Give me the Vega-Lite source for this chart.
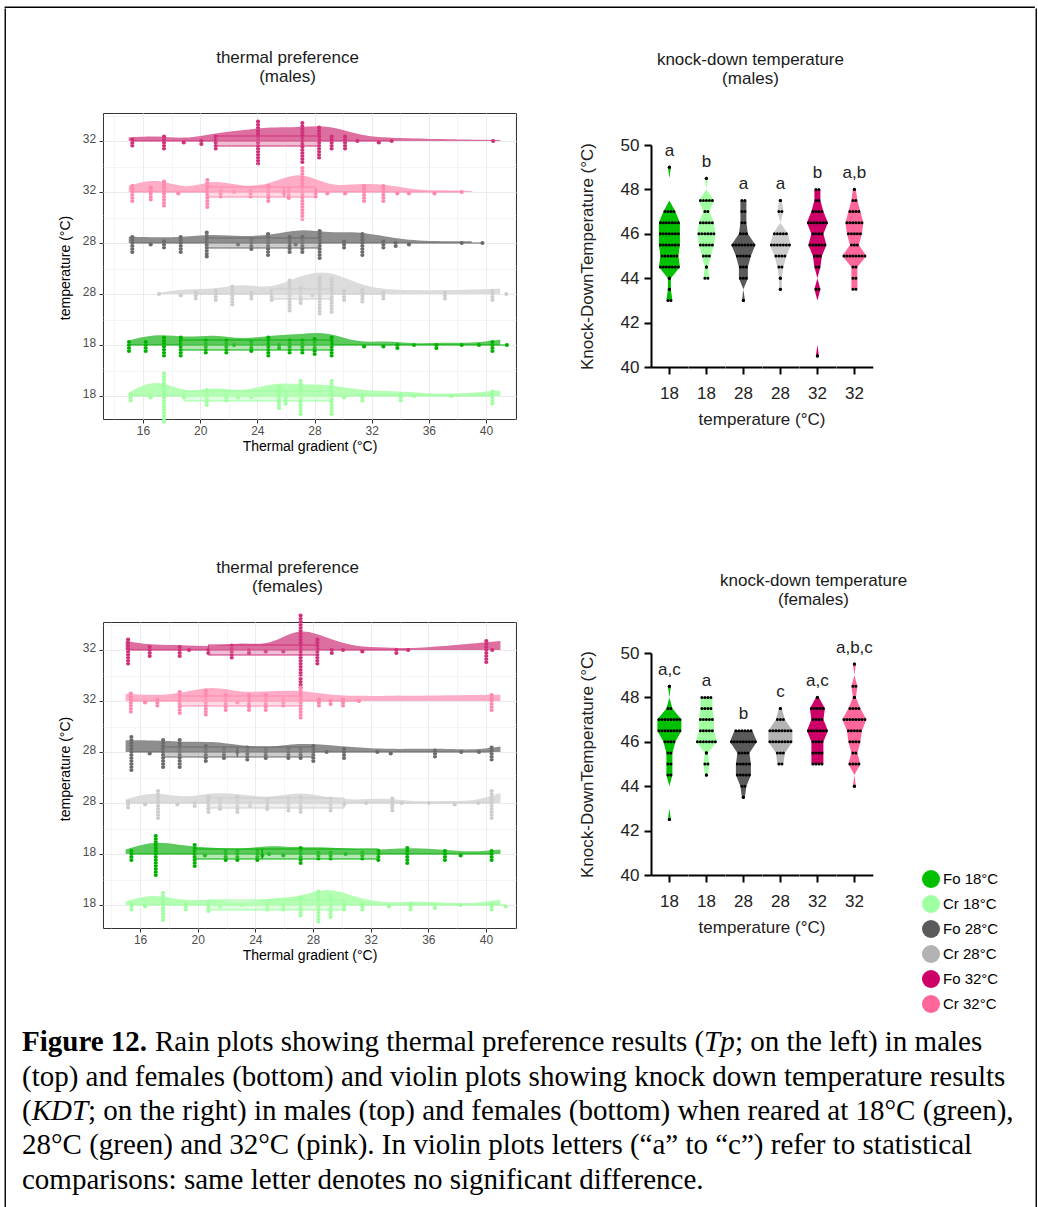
{
"$schema": "https://vega.github.io/schema/vega-lite/v6.json",
"padding": {"left": 4, "top": 6, "right": 0, "bottom": 0},
"background": "white",
"config": {
  "font": "Liberation Sans",
  "view": {"stroke": null},
  "title": {"fontSize": 17, "fontWeight": "normal", "color": "#1a1a1a", "lineHeight": 19, "anchor": "middle", "font": "Liberation Sans"},
  "axis": {"labelFont": "Liberation Sans", "titleFont": "Liberation Sans"},
  "header": {"labelFont": "Liberation Sans", "titleFont": "Liberation Sans"},
  "legend": {"labelFont": "Liberation Sans"}
},
"datasets": {
  "tpm": [
    {"g":"Fo32","x":15.25,"n":4},{"g":"Fo32","x":17.47,"n":6},{"g":"Fo32","x":18.85,"n":2},{"g":"Fo32","x":20.08,"n":3},{"g":"Fo32","x":21.09,"n":6},{"g":"Fo32","x":24.05,"n":16},{"g":"Fo32","x":27.15,"n":15},{"g":"Fo32","x":28.32,"n":12},{"g":"Fo32","x":29.2,"n":6},{"g":"Fo32","x":30.14,"n":6},{"g":"Fo32","x":31.0,"n":1},{"g":"Fo32","x":32.5,"n":2},{"g":"Fo32","x":33.4,"n":1},{"g":"Fo32","x":40.5,"n":1},
    {"g":"Cr32","x":15.25,"n":7},{"g":"Cr32","x":16.54,"n":6},{"g":"Cr32","x":17.47,"n":10},{"g":"Cr32","x":18.47,"n":2},{"g":"Cr32","x":20.5,"n":11},{"g":"Cr32","x":21.43,"n":4},{"g":"Cr32","x":22.37,"n":1},{"g":"Cr32","x":23.53,"n":4},{"g":"Cr32","x":24.77,"n":7},{"g":"Cr32","x":25.87,"n":2},{"g":"Cr32","x":26.2,"n":5},{"g":"Cr32","x":27.15,"n":19},{"g":"Cr32","x":28.08,"n":4},{"g":"Cr32","x":28.9,"n":2},{"g":"Cr32","x":30.14,"n":2},{"g":"Cr32","x":31.47,"n":7},{"g":"Cr32","x":32.82,"n":7},{"g":"Cr32","x":33.8,"n":2},{"g":"Cr32","x":34.6,"n":2},{"g":"Cr32","x":36.4,"n":2},{"g":"Cr32","x":38.3,"n":1},
    {"g":"Fo28","x":15.25,"n":7},{"g":"Fo28","x":16.54,"n":2},{"g":"Fo28","x":17.47,"n":4},{"g":"Fo28","x":18.64,"n":7},{"g":"Fo28","x":20.46,"n":10},{"g":"Fo28","x":22.65,"n":2},{"g":"Fo28","x":23.58,"n":5},{"g":"Fo28","x":24.75,"n":9},{"g":"Fo28","x":26.26,"n":7},{"g":"Fo28","x":26.68,"n":2},{"g":"Fo28","x":27.15,"n":7},{"g":"Fo28","x":28.36,"n":11},{"g":"Fo28","x":30.07,"n":4},{"g":"Fo28","x":31.35,"n":9},{"g":"Fo28","x":32.82,"n":4},{"g":"Fo28","x":33.68,"n":3},{"g":"Fo28","x":34.61,"n":2},{"g":"Fo28","x":38.3,"n":1},{"g":"Fo28","x":39.75,"n":1},
    {"g":"Cr28","x":17.12,"n":1},{"g":"Cr28","x":18.64,"n":2},{"g":"Cr28","x":19.69,"n":4},{"g":"Cr28","x":21.09,"n":5},{"g":"Cr28","x":22.25,"n":8},{"g":"Cr28","x":23.58,"n":4},{"g":"Cr28","x":25.0,"n":5},{"g":"Cr28","x":26.26,"n":12},{"g":"Cr28","x":27.03,"n":7},{"g":"Cr28","x":27.85,"n":2},{"g":"Cr28","x":28.36,"n":14},{"g":"Cr28","x":29.2,"n":13},{"g":"Cr28","x":30.07,"n":5},{"g":"Cr28","x":31.35,"n":6},{"g":"Cr28","x":32.82,"n":4},{"g":"Cr28","x":37.13,"n":4},{"g":"Cr28","x":40.45,"n":5},{"g":"Cr28","x":41.42,"n":1},
    {"g":"Fo18","x":15.02,"n":5},{"g":"Fo18","x":16.19,"n":5},{"g":"Fo18","x":17.47,"n":8},{"g":"Fo18","x":18.64,"n":8},{"g":"Fo18","x":20.39,"n":6},{"g":"Fo18","x":21.83,"n":6},{"g":"Fo18","x":22.37,"n":1},{"g":"Fo18","x":23.58,"n":5},{"g":"Fo18","x":24.77,"n":8},{"g":"Fo18","x":25.52,"n":3},{"g":"Fo18","x":26.26,"n":6},{"g":"Fo18","x":27.15,"n":6},{"g":"Fo18","x":28.01,"n":7},{"g":"Fo18","x":29.2,"n":8},{"g":"Fo18","x":31.47,"n":2},{"g":"Fo18","x":32.82,"n":2},{"g":"Fo18","x":33.8,"n":3},{"g":"Fo18","x":34.96,"n":1},{"g":"Fo18","x":36.53,"n":3},{"g":"Fo18","x":38.3,"n":1},{"g":"Fo18","x":39.51,"n":1},{"g":"Fo18","x":40.45,"n":5},{"g":"Fo18","x":41.46,"n":1},
    {"g":"Cr18","x":15.14,"n":4},{"g":"Cr18","x":16.54,"n":2},{"g":"Cr18","x":17.47,"n":18},{"g":"Cr18","x":18.87,"n":2},{"g":"Cr18","x":20.46,"n":7},{"g":"Cr18","x":21.83,"n":4},{"g":"Cr18","x":22.65,"n":2},{"g":"Cr18","x":23.58,"n":2},{"g":"Cr18","x":25.52,"n":9},{"g":"Cr18","x":25.99,"n":6},{"g":"Cr18","x":27.03,"n":13},{"g":"Cr18","x":29.2,"n":13},{"g":"Cr18","x":30.07,"n":2},{"g":"Cr18","x":31.35,"n":4},{"g":"Cr18","x":34.03,"n":4},{"g":"Cr18","x":34.96,"n":1},{"g":"Cr18","x":37.58,"n":1},{"g":"Cr18","x":40.45,"n":6}
  ],
  "tpf": [
    {"g":"Fo32","x":15.17,"n":10},{"g":"Fo32","x":16.67,"n":5},{"g":"Fo32","x":18.75,"n":5},{"g":"Fo32","x":19.4,"n":1},{"g":"Fo32","x":20.74,"n":3},{"g":"Fo32","x":22.36,"n":6},{"g":"Fo32","x":23.56,"n":3},{"g":"Fo32","x":24.72,"n":2},{"g":"Fo32","x":25.94,"n":2},{"g":"Fo32","x":27.14,"n":26},{"g":"Fo32","x":28.3,"n":10},{"g":"Fo32","x":29.3,"n":3},{"g":"Fo32","x":30.08,"n":1},{"g":"Fo32","x":31.42,"n":2},{"g":"Fo32","x":33.78,"n":3},{"g":"Fo32","x":34.6,"n":1},{"g":"Fo32","x":40.02,"n":9},{"g":"Fo32","x":40.43,"n":1},
    {"g":"Cr32","x":15.36,"n":8},{"g":"Cr32","x":16.35,"n":2},{"g":"Cr32","x":17.2,"n":4},{"g":"Cr32","x":18.75,"n":9},{"g":"Cr32","x":20.56,"n":10},{"g":"Cr32","x":21.94,"n":7},{"g":"Cr32","x":22.75,"n":2},{"g":"Cr32","x":23.56,"n":7},{"g":"Cr32","x":24.72,"n":7},{"g":"Cr32","x":25.94,"n":4},{"g":"Cr32","x":27.14,"n":12},{"g":"Cr32","x":28.41,"n":4},{"g":"Cr32","x":29.22,"n":3},{"g":"Cr32","x":30.08,"n":4},{"g":"Cr32","x":31.19,"n":1},{"g":"Cr32","x":40.39,"n":7},
    {"g":"Fo28","x":15.4,"n":13},{"g":"Fo28","x":16.67,"n":2},{"g":"Fo28","x":17.6,"n":11},{"g":"Fo28","x":18.75,"n":11},{"g":"Fo28","x":20.56,"n":7},{"g":"Fo28","x":21.82,"n":5},{"g":"Fo28","x":22.75,"n":1},{"g":"Fo28","x":23.44,"n":6},{"g":"Fo28","x":24.72,"n":5},{"g":"Fo28","x":26.29,"n":5},{"g":"Fo28","x":27.14,"n":5},{"g":"Fo28","x":28.02,"n":7},{"g":"Fo28","x":28.94,"n":1},{"g":"Fo28","x":30.15,"n":5},{"g":"Fo28","x":32.46,"n":1},{"g":"Fo28","x":33.39,"n":2},{"g":"Fo28","x":36.46,"n":4},{"g":"Fo28","x":38.28,"n":1},{"g":"Fo28","x":39.51,"n":1},{"g":"Fo28","x":40.39,"n":6},
    {"g":"Cr28","x":15.17,"n":4},{"g":"Cr28","x":16.35,"n":2},{"g":"Cr28","x":17.25,"n":11},{"g":"Cr28","x":18.59,"n":2},{"g":"Cr28","x":19.79,"n":3},{"g":"Cr28","x":20.74,"n":7},{"g":"Cr28","x":21.55,"n":5},{"g":"Cr28","x":22.75,"n":7},{"g":"Cr28","x":23.63,"n":3},{"g":"Cr28","x":24.83,"n":5},{"g":"Cr28","x":26.29,"n":6},{"g":"Cr28","x":27.14,"n":7},{"g":"Cr28","x":29.22,"n":6},{"g":"Cr28","x":30.15,"n":2},{"g":"Cr28","x":31.69,"n":1},{"g":"Cr28","x":33.5,"n":6},{"g":"Cr28","x":34.15,"n":1},{"g":"Cr28","x":36.04,"n":1},{"g":"Cr28","x":37.82,"n":2},{"g":"Cr28","x":39.46,"n":1},{"g":"Cr28","x":40.39,"n":11},
    {"g":"Fo18","x":15.4,"n":5},{"g":"Fo18","x":17.09,"n":15},{"g":"Fo18","x":19.79,"n":9},{"g":"Fo18","x":20.5,"n":2},{"g":"Fo18","x":21.94,"n":5},{"g":"Fo18","x":22.75,"n":5},{"g":"Fo18","x":24.14,"n":5},{"g":"Fo18","x":24.48,"n":2},{"g":"Fo18","x":24.95,"n":1},{"g":"Fo18","x":25.94,"n":2},{"g":"Fo18","x":27.14,"n":7},{"g":"Fo18","x":28.37,"n":4},{"g":"Fo18","x":29.22,"n":4},{"g":"Fo18","x":30.26,"n":1},{"g":"Fo18","x":31.42,"n":4},{"g":"Fo18","x":32.53,"n":5},{"g":"Fo18","x":34.54,"n":7},{"g":"Fo18","x":37.15,"n":5},{"g":"Fo18","x":38.24,"n":2},{"g":"Fo18","x":40.39,"n":5},
    {"g":"Cr18","x":15.4,"n":4},{"g":"Cr18","x":16.35,"n":2},{"g":"Cr18","x":17.6,"n":11},{"g":"Cr18","x":19.17,"n":4},{"g":"Cr18","x":20.74,"n":5},{"g":"Cr18","x":21.55,"n":2},{"g":"Cr18","x":23.05,"n":1},{"g":"Cr18","x":24.83,"n":4},{"g":"Cr18","x":25.94,"n":4},{"g":"Cr18","x":27.14,"n":8},{"g":"Cr18","x":28.37,"n":12},{"g":"Cr18","x":29.22,"n":9},{"g":"Cr18","x":30.15,"n":4},{"g":"Cr18","x":31.42,"n":4},{"g":"Cr18","x":33.27,"n":2},{"g":"Cr18","x":34.77,"n":4},{"g":"Cr18","x":36.46,"n":3},{"g":"Cr18","x":38.24,"n":1},{"g":"Cr18","x":40.39,"n":4},{"g":"Cr18","x":41.36,"n":2}
  ],
  "kdm": [
    {"g":"Fo18","k":49,"n":1},{"g":"Fo18","k":48.5,"n":0},{"g":"Fo18","k":48,"n":0},{"g":"Fo18","k":47.5,"n":0},{"g":"Fo18","k":47,"n":4},{"g":"Fo18","k":46.5,"n":7},{"g":"Fo18","k":46,"n":7},{"g":"Fo18","k":45.5,"n":7},{"g":"Fo18","k":45,"n":6},{"g":"Fo18","k":44.5,"n":7},{"g":"Fo18","k":44,"n":1},{"g":"Fo18","k":43.5,"n":1},{"g":"Fo18","k":43,"n":2},
    {"g":"Cr18","k":48.5,"n":1},{"g":"Cr18","k":48,"n":0},{"g":"Cr18","k":47.5,"n":5},{"g":"Cr18","k":47,"n":2},{"g":"Cr18","k":46.5,"n":5},{"g":"Cr18","k":46,"n":6},{"g":"Cr18","k":45.5,"n":5},{"g":"Cr18","k":45,"n":3},{"g":"Cr18","k":44.5,"n":1},{"g":"Cr18","k":44,"n":2},
    {"g":"Fo28","k":47.5,"n":2},{"g":"Fo28","k":47,"n":2},{"g":"Fo28","k":46.5,"n":2},{"g":"Fo28","k":46,"n":3},{"g":"Fo28","k":45.5,"n":8},{"g":"Fo28","k":45,"n":5},{"g":"Fo28","k":44.5,"n":3},{"g":"Fo28","k":44,"n":3},{"g":"Fo28","k":43.5,"n":0},{"g":"Fo28","k":43,"n":1},
    {"g":"Cr28","k":47.5,"n":1},{"g":"Cr28","k":47,"n":2},{"g":"Cr28","k":46.5,"n":0},{"g":"Cr28","k":46,"n":5},{"g":"Cr28","k":45.5,"n":7},{"g":"Cr28","k":45,"n":4},{"g":"Cr28","k":44.5,"n":2},{"g":"Cr28","k":44,"n":1},{"g":"Cr28","k":43.5,"n":1},
    {"g":"Fo32","k":48,"n":2},{"g":"Fo32","k":47.5,"n":2},{"g":"Fo32","k":47,"n":4},{"g":"Fo32","k":46.5,"n":7},{"g":"Fo32","k":46,"n":4},{"g":"Fo32","k":45.5,"n":6},{"g":"Fo32","k":45,"n":3},{"g":"Fo32","k":44.5,"n":2},{"g":"Fo32","k":44,"n":0},{"g":"Fo32","k":43.5,"n":2},{"g":"Fo32","k":43,"n":0},{"g":"Fo32","k":41,"n":0},{"g":"Fo32","k":40.5,"n":1},
    {"g":"Cr32","k":48,"n":1},{"g":"Cr32","k":47.5,"n":2},{"g":"Cr32","k":47,"n":4},{"g":"Cr32","k":46.5,"n":6},{"g":"Cr32","k":46,"n":5},{"g":"Cr32","k":45.5,"n":3},{"g":"Cr32","k":45,"n":8},{"g":"Cr32","k":44.5,"n":2},{"g":"Cr32","k":44,"n":2},{"g":"Cr32","k":43.5,"n":2},
    {"g":"Fo18","lt":"a"},{"g":"Cr18","lt":"b"},{"g":"Fo28","lt":"a"},{"g":"Cr28","lt":"a"},{"g":"Fo32","lt":"b"},{"g":"Cr32","lt":"a,b"}
  ],
  "kdf": [
    {"g":"Fo18","k":48.5,"n":1},{"g":"Fo18","k":48,"n":0},{"g":"Fo18","k":47.5,"n":2},{"g":"Fo18","k":47,"n":8},{"g":"Fo18","k":46.5,"n":8},{"g":"Fo18","k":46,"n":4},{"g":"Fo18","k":45.5,"n":2},{"g":"Fo18","k":45,"n":2},{"g":"Fo18","k":44.5,"n":2},{"g":"Fo18","k":44,"n":0},{"g":"Fo18","k":43,"n":0},{"g":"Fo18","k":42.5,"n":1},
    {"g":"Cr18","k":48,"n":4},{"g":"Cr18","k":47.5,"n":4},{"g":"Cr18","k":47,"n":5},{"g":"Cr18","k":46.5,"n":5},{"g":"Cr18","k":46,"n":7},{"g":"Cr18","k":45.5,"n":1},{"g":"Cr18","k":45,"n":2},{"g":"Cr18","k":44.5,"n":1},
    {"g":"Fo28","k":46.5,"n":6},{"g":"Fo28","k":46,"n":9},{"g":"Fo28","k":45.5,"n":4},{"g":"Fo28","k":45,"n":5},{"g":"Fo28","k":44.5,"n":5},{"g":"Fo28","k":44,"n":2},{"g":"Fo28","k":43.5,"n":1},
    {"g":"Cr28","k":47.5,"n":1},{"g":"Cr28","k":47,"n":3},{"g":"Cr28","k":46.5,"n":8},{"g":"Cr28","k":46,"n":8},{"g":"Cr28","k":45.5,"n":3},{"g":"Cr28","k":45,"n":2},
    {"g":"Fo32","k":48,"n":1},{"g":"Fo32","k":47.5,"n":5},{"g":"Fo32","k":47,"n":4},{"g":"Fo32","k":46.5,"n":7},{"g":"Fo32","k":46,"n":4},{"g":"Fo32","k":45.5,"n":4},{"g":"Fo32","k":45,"n":4},
    {"g":"Cr32","k":49.5,"n":1},{"g":"Cr32","k":49,"n":0},{"g":"Cr32","k":48.5,"n":2},{"g":"Cr32","k":48,"n":1},{"g":"Cr32","k":47.5,"n":4},{"g":"Cr32","k":47,"n":8},{"g":"Cr32","k":46.5,"n":5},{"g":"Cr32","k":46,"n":4},{"g":"Cr32","k":45.5,"n":2},{"g":"Cr32","k":45,"n":4},{"g":"Cr32","k":44.5,"n":0},{"g":"Cr32","k":44,"n":1},
    {"g":"Fo18","lt":"a,c"},{"g":"Cr18","lt":"a"},{"g":"Fo28","lt":"b"},{"g":"Cr28","lt":"c"},{"g":"Fo32","lt":"a,c"},{"g":"Cr32","lt":"a,b,c"}
  ],
  "cap": [
    {"id":"b","line":1,"t":"Figure 12."},
    {"id":"p1","line":1,"t":"Rain plots showing thermal preference results ("},
    {"id":"i1","line":1,"t":"Tp"},
    {"id":"p2","line":1,"t":"; on the left) in males"},
    {"id":"p","line":2,"t":"(top) and females (bottom) and violin plots showing knock down temperature results"},
    {"id":"p","line":3,"t":"("},
    {"id":"i3","line":3,"t":"KDT"},
    {"id":"p3","line":3,"t":"; on the right) in males (top) and females (bottom) when reared at 18°C (green),"},
    {"id":"p","line":4,"t":"28°C (green) and 32°C (pink). In violin plots letters (“a” to “c”) refer to statistical"},
    {"id":"p","line":5,"t":"comparisons: same letter denotes no significant difference."}
  ]
},
"spacing": 0,
"resolve": {"scale": {"color": "independent", "fill": "independent", "stroke": "independent"}},
"vconcat": [
  {"width": 1029, "height": 0.1, "data": {"values": []}, "mark": "point", "encoding": {}, "view": {"stroke": "#000000", "strokeWidth": 1.3}},
  {"spacing": 16,
   "resolve": {"scale": {"color": "independent", "fill": "independent", "stroke": "independent"}},
   "hconcat": [
    {"width": 0.1, "height": 1201, "data": {"values": []}, "mark": "point", "encoding": {}, "view": {"stroke": "#000000", "strokeWidth": 1.3}},
    {"spacing": 0,
     "resolve": {"scale": {"color": "independent", "fill": "independent", "stroke": "independent"}},
     "vconcat": [
      {"width": 1, "height": 40, "data": {"values": []}, "mark": "point", "encoding": {}},
      {"spacing": 10,
       "resolve": {"scale": {"color": "independent", "fill": "independent", "stroke": "independent"}},
       "hconcat": [
        {"width": 26, "height": 1, "data": {"values": []}, "mark": "point", "encoding": {}},
        {"data": {"name": "tpm"},
         "title": {"text": ["thermal preference", "(males)"], "offset": 27},
         "bounds": "flush",
         "facet": {"row": {"field": "g", "type": "nominal", "sort": ["Fo32","Cr32","Fo28","Cr28","Fo18","Cr18"], "title": "temperature (°C)",
           "header": {"labelExpr": "substring(datum.value, 2)", "labelAngle": 0, "labelAlign": "right", "labelBaseline": "middle", "labelFontSize": 12, "labelColor": "#4d4d4d", "labelPadding": -11, "titleFontSize": 14, "titleFontWeight": "normal", "titleColor": "#000000", "titlePadding": -1}}},
         "spacing": {"row": 0},
         "spec": {
          "width": 413, "height": 51,
          "resolve": {"axis": {"x": "independent", "y": "independent"}},
          "layer": [
           {"transform": [
              {"bin": {"step": 2, "extent": [14, 42]}, "field": "x", "as": ["b0", "b1"]},
              {"aggregate": [{"op": "sum", "field": "n", "as": "c"}], "groupby": ["g", "b0"]},
              {"impute": "c", "key": "b0", "groupby": ["g"], "value": 0},
              {"calculate": "datum.b0 + 1", "as": "bm"},
              {"calculate": "datum.c * 0.9", "as": "h"}],
            "mark": {"type": "area", "interpolate": "basis"},
            "encoding": {
              "x": {"field": "bm", "type": "quantitative", "scale": {"domain": [13.2, 42.1], "nice": false, "zero": false},
                    "axis": {"orient": "top", "values": [14,18,22,26,30,34,38,42], "grid": true, "gridColor": "#ececec", "gridWidth": 0.6, "ticks": false, "labels": false, "domain": true, "domainColor": "#333333", "domainWidth": 1, "title": null, "minExtent": 0}},
              "y": {"field": "h", "type": "quantitative", "scale": {"domain": [-23, 28], "nice": false, "zero": false},
                    "axis": {"orient": "right", "values": [25.5], "grid": true, "gridColor": "#ececec", "gridWidth": 0.6, "ticks": false, "labels": false, "domain": true, "domainColor": "#333333", "domainWidth": 1, "title": null, "minExtent": 0}},
              "fill": {"field": "g", "type": "nominal", "scale": {"domain": ["Fo32","Cr32","Fo28","Cr28","Fo18","Cr18"], "range": ["#dc6ea0","#ffadc6","#8e8e8e","#dcdcdc","#5cc95c","#b5ffb5"]}, "legend": null}
            }},
           {"transform": [{"filter": "datum.n > 1"}, {"calculate": "(1 - datum.n)*1.5", "as": "lo"}, {"calculate": "(datum.n - 1)*1.5", "as": "hi"}],
            "mark": {"type": "rule", "strokeWidth": 4.2, "strokeCap": "round", "strokeDash": [0, 3]},
            "encoding": {
              "x": {"field": "x", "type": "quantitative",
                    "axis": {"orient": "bottom", "values": [16,20,24,28,32,36,40], "grid": true, "gridColor": "#ebebeb", "gridWidth": 1, "ticks": true, "tickColor": "#333333", "tickSize": 4, "labelFontSize": 12, "labelColor": "#4d4d4d", "labelPadding": 2, "domain": true, "domainColor": "#333333", "title": "Thermal gradient (°C)", "titleFontSize": 14, "titleFontWeight": "normal", "titleColor": "#000000", "titlePadding": 3}},
              "y": {"field": "lo", "type": "quantitative",
                    "axis": {"orient": "left", "values": [0], "grid": true, "gridColor": "#ebebeb", "gridWidth": 1, "ticks": true, "tickColor": "#333333", "tickSize": 4, "labels": false, "domain": true, "domainColor": "#333333", "title": null, "minExtent": 0}},
              "y2": {"field": "hi"},
              "stroke": {"field": "g", "type": "nominal", "scale": {"domain": ["Fo32","Cr32","Fo28","Cr28","Fo18","Cr18"], "range": ["#d03079","#ff88ae","#6b6b6b","#cdcdcd","#00b200","#9dff9d"]}, "legend": null}
            }},
           {"transform": [{"filter": "datum.n == 1"}],
            "mark": {"type": "circle", "size": 17, "opacity": 1},
            "encoding": {
              "x": {"field": "x", "type": "quantitative", "axis": null},
              "y": {"datum": 0, "type": "quantitative", "axis": null},
              "color": {"field": "g", "type": "nominal", "scale": {"domain": ["Fo32","Cr32","Fo28","Cr28","Fo18","Cr18"], "range": ["#d03079","#ff88ae","#6b6b6b","#cdcdcd","#00b200","#9dff9d"]}, "legend": null}
            }},
           {"transform": [
              {"window": [{"op": "sum", "field": "n", "as": "cum"}], "sort": [{"field": "x"}], "groupby": ["g"]},
              {"joinaggregate": [{"op": "sum", "field": "n", "as": "N"}], "groupby": ["g"]},
              {"calculate": "datum.cum >= 0.25*datum.N ? datum.x : null", "as": "a1"},
              {"calculate": "datum.cum >= 0.5*datum.N ? datum.x : null", "as": "a2"},
              {"calculate": "datum.cum >= 0.75*datum.N ? datum.x : null", "as": "a3"},
              {"joinaggregate": [{"op": "min", "field": "a1", "as": "q1"}, {"op": "min", "field": "a2", "as": "md"}, {"op": "min", "field": "a3", "as": "q3"}], "groupby": ["g"]},
              {"calculate": "datum.x >= datum.q1 - 1.5*(datum.q3 - datum.q1) ? datum.x : null", "as": "wl"},
              {"calculate": "datum.x <= datum.q3 + 1.5*(datum.q3 - datum.q1) ? datum.x : null", "as": "wh"},
              {"aggregate": [{"op": "min", "field": "wl", "as": "wlo"}, {"op": "max", "field": "wh", "as": "whi"}, {"op": "max", "field": "q1", "as": "q1"}, {"op": "max", "field": "md", "as": "md"}, {"op": "max", "field": "q3", "as": "q3"}], "groupby": ["g"]}],
            "layer": [
             {"mark": {"type": "rule", "strokeWidth": 1.2},
              "encoding": {
                "x": {"field": "wlo", "type": "quantitative", "axis": null},
                "x2": {"field": "whi"},
                "y": {"datum": 0, "type": "quantitative", "axis": null},
                "stroke": {"field": "g", "type": "nominal", "legend": null}}},
             {"mark": {"type": "rect", "fillOpacity": 0.45, "strokeWidth": 1},
              "encoding": {
                "x": {"field": "q1", "type": "quantitative", "axis": null},
                "x2": {"field": "q3"},
                "y": {"datum": -5, "type": "quantitative", "axis": null},
                "y2": {"datum": 5},
                "fill": {"field": "g", "type": "nominal", "legend": null},
                "stroke": {"field": "g", "type": "nominal", "legend": null}}},
             {"mark": {"type": "rule", "strokeWidth": 1.5},
              "encoding": {
                "x": {"field": "md", "type": "quantitative", "axis": null},
                "y": {"datum": -5, "type": "quantitative", "axis": null},
                "y2": {"datum": 5},
                "stroke": {"field": "g", "type": "nominal", "legend": null}}}
            ]}
          ]
         }
        },
        {"width": 42, "height": 1, "data": {"values": []}, "mark": "point", "encoding": {}},
        {"spacing": 0,
         "title": {"text": ["knock-down temperature", "(males)"], "offset": 25, "dx": 25},
         "resolve": {"scale": {"color": "independent", "fill": "independent", "stroke": "independent"}},
         "vconcat": [
          {"width": 1, "height": 23, "data": {"values": []}, "mark": "point", "encoding": {}},
          {"data": {"name": "kdm"},
           "bounds": "flush",
           "facet": {"column": {"field": "g", "type": "nominal", "sort": ["Fo18","Cr18","Fo28","Cr28","Fo32","Cr32"], "title": "temperature (°C)",
             "header": {"labelOrient": "bottom", "titleOrient": "bottom", "labelExpr": "substring(datum.value, 2)", "labelFontSize": 17, "labelColor": "#222222", "labelPadding": 11, "titleFontSize": 17, "titleFontWeight": "normal", "titleColor": "#222222", "titlePadding": 0}}},
           "spacing": {"column": 0},
           "spec": {
            "width": 36.8, "height": 222,
            "layer": [
             {"transform": [{"filter": "isValid(datum.k)"}, {"calculate": "-datum.n/2", "as": "lo"}, {"calculate": "datum.n/2", "as": "hi"}],
              "mark": {"type": "area", "orient": "horizontal", "interpolate": "linear"},
              "encoding": {
                "y": {"field": "k", "type": "quantitative", "scale": {"domain": [40, 50], "nice": false, "zero": false},
                      "axis": {"values": [40,42,44,46,48,50], "domainColor": "#000000", "domainWidth": 2, "tickColor": "#000000", "tickWidth": 2, "tickSize": 7, "labelFontSize": 17, "labelColor": "#222222", "labelPadding": 5, "grid": false, "title": "Knock-DownTemperature (°C)", "titleFontSize": 17, "titleFontWeight": "normal", "titleColor": "#222222", "titlePadding": 24}},
                "x": {"field": "lo", "type": "quantitative", "scale": {"domain": [-6.13, 6.13], "nice": false, "zero": false},
                      "axis": {"values": [0], "domainColor": "#000000", "domainWidth": 2, "tickColor": "#000000", "tickWidth": 2, "tickSize": 7, "labels": false, "grid": false, "title": null}},
                "x2": {"field": "hi"},
                "fill": {"field": "g", "type": "nominal", "scale": {"domain": ["Fo18","Cr18","Fo28","Cr28","Fo32","Cr32"], "range": ["#00c000","#a0ffa0","#5a5a5a","#cccccc","#cc0066","#ff6699"]}, "legend": null}
              }},
             {"transform": [{"filter": "isValid(datum.k) && datum.n > 0"}, {"calculate": "(1 - datum.n)/2", "as": "lo"}, {"calculate": "(datum.n - 1)/2", "as": "hi"}],
              "mark": {"type": "rule", "strokeWidth": 3, "strokeCap": "round", "strokeDash": [0, 3], "color": "#000000"},
              "encoding": {
                "y": {"field": "k", "type": "quantitative"},
                "x": {"field": "lo", "type": "quantitative"},
                "x2": {"field": "hi"}
              }},
             {"transform": [{"filter": "isValid(datum.k) && datum.n == 1"}],
              "mark": {"type": "circle", "size": 10, "opacity": 1, "color": "#000000"},
              "encoding": {
                "y": {"field": "k", "type": "quantitative"}
              }},
             {"transform": [{"joinaggregate": [{"op": "max", "field": "k", "as": "mk"}], "groupby": ["g"]}, {"filter": "isValid(datum.lt)"}],
              "mark": {"type": "text", "fontSize": 17, "dy": -11.5, "baseline": "alphabetic", "color": "#222222"},
              "encoding": {
                "y": {"field": "mk", "type": "quantitative"},
                "text": {"field": "lt"}
              }}
            ]
           }
          }
         ]}
       ]},
      {"width": 1, "height": 106, "data": {"values": []}, "mark": "point", "encoding": {}},
      {"spacing": 10,
       "resolve": {"scale": {"color": "independent", "fill": "independent", "stroke": "independent"}},
       "hconcat": [
        {"width": 26, "height": 1, "data": {"values": []}, "mark": "point", "encoding": {}},
        {"data": {"name": "tpf"},
         "title": {"text": ["thermal preference", "(females)"], "offset": 14},
         "bounds": "flush",
         "facet": {"row": {"field": "g", "type": "nominal", "sort": ["Fo32","Cr32","Fo28","Cr28","Fo18","Cr18"], "title": "temperature (°C)",
           "header": {"labelExpr": "substring(datum.value, 2)", "labelAngle": 0, "labelAlign": "right", "labelBaseline": "middle", "labelFontSize": 12, "labelColor": "#4d4d4d", "labelPadding": -11, "titleFontSize": 14, "titleFontWeight": "normal", "titleColor": "#000000", "titlePadding": -1}}},
         "spacing": {"row": 0},
         "spec": {
          "width": 413, "height": 51,
          "resolve": {"axis": {"x": "independent", "y": "independent"}},
          "layer": [
           {"transform": [
              {"bin": {"step": 2, "extent": [14, 42]}, "field": "x", "as": ["b0", "b1"]},
              {"aggregate": [{"op": "sum", "field": "n", "as": "c"}], "groupby": ["g", "b0"]},
              {"impute": "c", "key": "b0", "groupby": ["g"], "value": 0},
              {"calculate": "datum.b0 + 1", "as": "bm"},
              {"calculate": "datum.c * 0.9", "as": "h"}],
            "mark": {"type": "area", "interpolate": "basis"},
            "encoding": {
              "x": {"field": "bm", "type": "quantitative", "scale": {"domain": [13.43, 42.08], "nice": false, "zero": false},
                    "axis": {"orient": "top", "values": [14,18,22,26,30,34,38,42], "grid": true, "gridColor": "#ececec", "gridWidth": 0.6, "ticks": false, "labels": false, "domain": true, "domainColor": "#333333", "domainWidth": 1, "title": null, "minExtent": 0}},
              "y": {"field": "h", "type": "quantitative", "scale": {"domain": [-23, 28], "nice": false, "zero": false},
                    "axis": {"orient": "right", "values": [25.5], "grid": true, "gridColor": "#ececec", "gridWidth": 0.6, "ticks": false, "labels": false, "domain": true, "domainColor": "#333333", "domainWidth": 1, "title": null, "minExtent": 0}},
              "fill": {"field": "g", "type": "nominal", "scale": {"domain": ["Fo32","Cr32","Fo28","Cr28","Fo18","Cr18"], "range": ["#dc6ea0","#ffadc6","#8e8e8e","#dcdcdc","#5cc95c","#b5ffb5"]}, "legend": null}
            }},
           {"transform": [{"filter": "datum.n > 1"}, {"calculate": "(1 - datum.n)*1.5", "as": "lo"}, {"calculate": "(datum.n - 1)*1.5", "as": "hi"}],
            "mark": {"type": "rule", "strokeWidth": 4.2, "strokeCap": "round", "strokeDash": [0, 3]},
            "encoding": {
              "x": {"field": "x", "type": "quantitative",
                    "axis": {"orient": "bottom", "values": [16,20,24,28,32,36,40], "grid": true, "gridColor": "#ebebeb", "gridWidth": 1, "ticks": true, "tickColor": "#333333", "tickSize": 4, "labelFontSize": 12, "labelColor": "#4d4d4d", "labelPadding": 2, "domain": true, "domainColor": "#333333", "title": "Thermal gradient (°C)", "titleFontSize": 14, "titleFontWeight": "normal", "titleColor": "#000000", "titlePadding": 3}},
              "y": {"field": "lo", "type": "quantitative",
                    "axis": {"orient": "left", "values": [0], "grid": true, "gridColor": "#ebebeb", "gridWidth": 1, "ticks": true, "tickColor": "#333333", "tickSize": 4, "labels": false, "domain": true, "domainColor": "#333333", "title": null, "minExtent": 0}},
              "y2": {"field": "hi"},
              "stroke": {"field": "g", "type": "nominal", "scale": {"domain": ["Fo32","Cr32","Fo28","Cr28","Fo18","Cr18"], "range": ["#d03079","#ff88ae","#6b6b6b","#cdcdcd","#00b200","#9dff9d"]}, "legend": null}
            }},
           {"transform": [{"filter": "datum.n == 1"}],
            "mark": {"type": "circle", "size": 17, "opacity": 1},
            "encoding": {
              "x": {"field": "x", "type": "quantitative", "axis": null},
              "y": {"datum": 0, "type": "quantitative", "axis": null},
              "color": {"field": "g", "type": "nominal", "scale": {"domain": ["Fo32","Cr32","Fo28","Cr28","Fo18","Cr18"], "range": ["#d03079","#ff88ae","#6b6b6b","#cdcdcd","#00b200","#9dff9d"]}, "legend": null}
            }},
           {"transform": [
              {"window": [{"op": "sum", "field": "n", "as": "cum"}], "sort": [{"field": "x"}], "groupby": ["g"]},
              {"joinaggregate": [{"op": "sum", "field": "n", "as": "N"}], "groupby": ["g"]},
              {"calculate": "datum.cum >= 0.25*datum.N ? datum.x : null", "as": "a1"},
              {"calculate": "datum.cum >= 0.5*datum.N ? datum.x : null", "as": "a2"},
              {"calculate": "datum.cum >= 0.75*datum.N ? datum.x : null", "as": "a3"},
              {"joinaggregate": [{"op": "min", "field": "a1", "as": "q1"}, {"op": "min", "field": "a2", "as": "md"}, {"op": "min", "field": "a3", "as": "q3"}], "groupby": ["g"]},
              {"calculate": "datum.x >= datum.q1 - 1.5*(datum.q3 - datum.q1) ? datum.x : null", "as": "wl"},
              {"calculate": "datum.x <= datum.q3 + 1.5*(datum.q3 - datum.q1) ? datum.x : null", "as": "wh"},
              {"aggregate": [{"op": "min", "field": "wl", "as": "wlo"}, {"op": "max", "field": "wh", "as": "whi"}, {"op": "max", "field": "q1", "as": "q1"}, {"op": "max", "field": "md", "as": "md"}, {"op": "max", "field": "q3", "as": "q3"}], "groupby": ["g"]}],
            "layer": [
             {"mark": {"type": "rule", "strokeWidth": 1.2},
              "encoding": {
                "x": {"field": "wlo", "type": "quantitative", "axis": null},
                "x2": {"field": "whi"},
                "y": {"datum": 0, "type": "quantitative", "axis": null},
                "stroke": {"field": "g", "type": "nominal", "legend": null}}},
             {"mark": {"type": "rect", "fillOpacity": 0.45, "strokeWidth": 1},
              "encoding": {
                "x": {"field": "q1", "type": "quantitative", "axis": null},
                "x2": {"field": "q3"},
                "y": {"datum": -5, "type": "quantitative", "axis": null},
                "y2": {"datum": 5},
                "fill": {"field": "g", "type": "nominal", "legend": null},
                "stroke": {"field": "g", "type": "nominal", "legend": null}}},
             {"mark": {"type": "rule", "strokeWidth": 1.5},
              "encoding": {
                "x": {"field": "md", "type": "quantitative", "axis": null},
                "y": {"datum": -5, "type": "quantitative", "axis": null},
                "y2": {"datum": 5},
                "stroke": {"field": "g", "type": "nominal", "legend": null}}}
            ]}
          ]
         }
        },
        {"width": 42, "height": 1, "data": {"values": []}, "mark": "point", "encoding": {}},
        {"spacing": 0,
         "title": {"text": ["knock-down temperature", "(females)"], "offset": 13, "dx": 25},
         "resolve": {"scale": {"color": "independent", "fill": "independent", "stroke": "independent"}},
         "vconcat": [
          {"width": 1, "height": 16, "data": {"values": []}, "mark": "point", "encoding": {}},
          {"data": {"name": "kdf"},
           "bounds": "flush",
           "facet": {"column": {"field": "g", "type": "nominal", "sort": ["Fo18","Cr18","Fo28","Cr28","Fo32","Cr32"], "title": "temperature (°C)",
             "header": {"labelOrient": "bottom", "titleOrient": "bottom", "labelExpr": "substring(datum.value, 2)", "labelFontSize": 17, "labelColor": "#222222", "labelPadding": 11, "titleFontSize": 17, "titleFontWeight": "normal", "titleColor": "#222222", "titlePadding": 0}}},
           "spacing": {"column": 0},
           "spec": {
            "width": 36.8, "height": 222,
            "layer": [
             {"transform": [{"filter": "isValid(datum.k)"}, {"calculate": "-datum.n/2", "as": "lo"}, {"calculate": "datum.n/2", "as": "hi"}],
              "mark": {"type": "area", "orient": "horizontal", "interpolate": "linear"},
              "encoding": {
                "y": {"field": "k", "type": "quantitative", "scale": {"domain": [40, 50], "nice": false, "zero": false},
                      "axis": {"values": [40,42,44,46,48,50], "domainColor": "#000000", "domainWidth": 2, "tickColor": "#000000", "tickWidth": 2, "tickSize": 7, "labelFontSize": 17, "labelColor": "#222222", "labelPadding": 5, "grid": false, "title": "Knock-DownTemperature (°C)", "titleFontSize": 17, "titleFontWeight": "normal", "titleColor": "#222222", "titlePadding": 24}},
                "x": {"field": "lo", "type": "quantitative", "scale": {"domain": [-6.13, 6.13], "nice": false, "zero": false},
                      "axis": {"values": [0], "domainColor": "#000000", "domainWidth": 2, "tickColor": "#000000", "tickWidth": 2, "tickSize": 7, "labels": false, "grid": false, "title": null}},
                "x2": {"field": "hi"},
                "fill": {"field": "g", "type": "nominal", "scale": {"domain": ["Fo18","Cr18","Fo28","Cr28","Fo32","Cr32"], "range": ["#00c000","#a0ffa0","#5a5a5a","#b3b3b3","#cc0066","#ff6699"]},
                         "legend": {"orient": "none", "legendX": 271, "legendY": 217, "title": null, "symbolType": "circle", "symbolSize": 324, "symbolStrokeWidth": 0, "symbolOpacity": 1, "labelFontSize": 15, "labelColor": "#000000", "labelOffset": 3, "rowPadding": 7, "padding": 0, "labelExpr": "substring(datum.label, 0, 2) + ' ' + substring(datum.label, 2) + '°C'"}}
              }},
             {"transform": [{"filter": "isValid(datum.k) && datum.n > 0"}, {"calculate": "(1 - datum.n)/2", "as": "lo"}, {"calculate": "(datum.n - 1)/2", "as": "hi"}],
              "mark": {"type": "rule", "strokeWidth": 3, "strokeCap": "round", "strokeDash": [0, 3], "color": "#000000"},
              "encoding": {
                "y": {"field": "k", "type": "quantitative"},
                "x": {"field": "lo", "type": "quantitative"},
                "x2": {"field": "hi"}
              }},
             {"transform": [{"filter": "isValid(datum.k) && datum.n == 1"}],
              "mark": {"type": "circle", "size": 10, "opacity": 1, "color": "#000000"},
              "encoding": {
                "y": {"field": "k", "type": "quantitative"}
              }},
             {"transform": [{"joinaggregate": [{"op": "max", "field": "k", "as": "mk"}], "groupby": ["g"]}, {"filter": "isValid(datum.lt)"}],
              "mark": {"type": "text", "fontSize": 17, "dy": -11.5, "baseline": "alphabetic", "color": "#222222"},
              "encoding": {
                "y": {"field": "mk", "type": "quantitative"},
                "text": {"field": "lt"}
              }}
            ]
           }
          }
         ]}
       ]},
      {"width": 997, "height": 172,
       "data": {"name": "cap"},
       "encoding": {
         "x": {"datum": 0, "type": "quantitative", "scale": {"domain": [0, 1]}, "axis": null},
         "y": {"field": "line", "type": "quantitative", "scale": {"domain": [0.5, 5.5], "reverse": true, "nice": false, "zero": false}, "axis": null},
         "text": {"field": "t"}
       },
       "layer": [
         {"transform": [{"filter": "datum.id == 'p'"}], "mark": {"type": "text", "align": "left", "baseline": "alphabetic", "font": "Liberation Serif", "fontSize": 29, "dy": 21, "color": "#000000"}},
         {"transform": [{"filter": "datum.id == 'b'"}], "mark": {"type": "text", "align": "left", "baseline": "alphabetic", "font": "Liberation Serif", "fontSize": 29, "fontWeight": "bold", "dy": 21, "color": "#000000"}},
         {"transform": [{"filter": "datum.id == 'p1'"}], "mark": {"type": "text", "align": "left", "baseline": "alphabetic", "font": "Liberation Serif", "fontSize": 29, "dx": 133, "dy": 21, "color": "#000000"}},
         {"transform": [{"filter": "datum.id == 'i1'"}], "mark": {"type": "text", "align": "left", "baseline": "alphabetic", "font": "Liberation Serif", "fontSize": 29, "fontStyle": "italic", "dx": 682, "dy": 21, "color": "#000000"}},
         {"transform": [{"filter": "datum.id == 'p2'"}], "mark": {"type": "text", "align": "left", "baseline": "alphabetic", "font": "Liberation Serif", "fontSize": 29, "dx": 713, "dy": 21, "color": "#000000"}},
         {"transform": [{"filter": "datum.id == 'i3'"}], "mark": {"type": "text", "align": "left", "baseline": "alphabetic", "font": "Liberation Serif", "fontSize": 29, "fontStyle": "italic", "dx": 9.7, "dy": 21, "color": "#000000"}},
         {"transform": [{"filter": "datum.id == 'p3'"}], "mark": {"type": "text", "align": "left", "baseline": "alphabetic", "font": "Liberation Serif", "fontSize": 29, "dx": 66, "dy": 21, "color": "#000000"}}
       ]}
     ]},
    {"width": 0.1, "height": 1201, "data": {"values": []}, "mark": "point", "encoding": {}, "view": {"stroke": "#000000", "strokeWidth": 1.3}}
   ]}
]
}
